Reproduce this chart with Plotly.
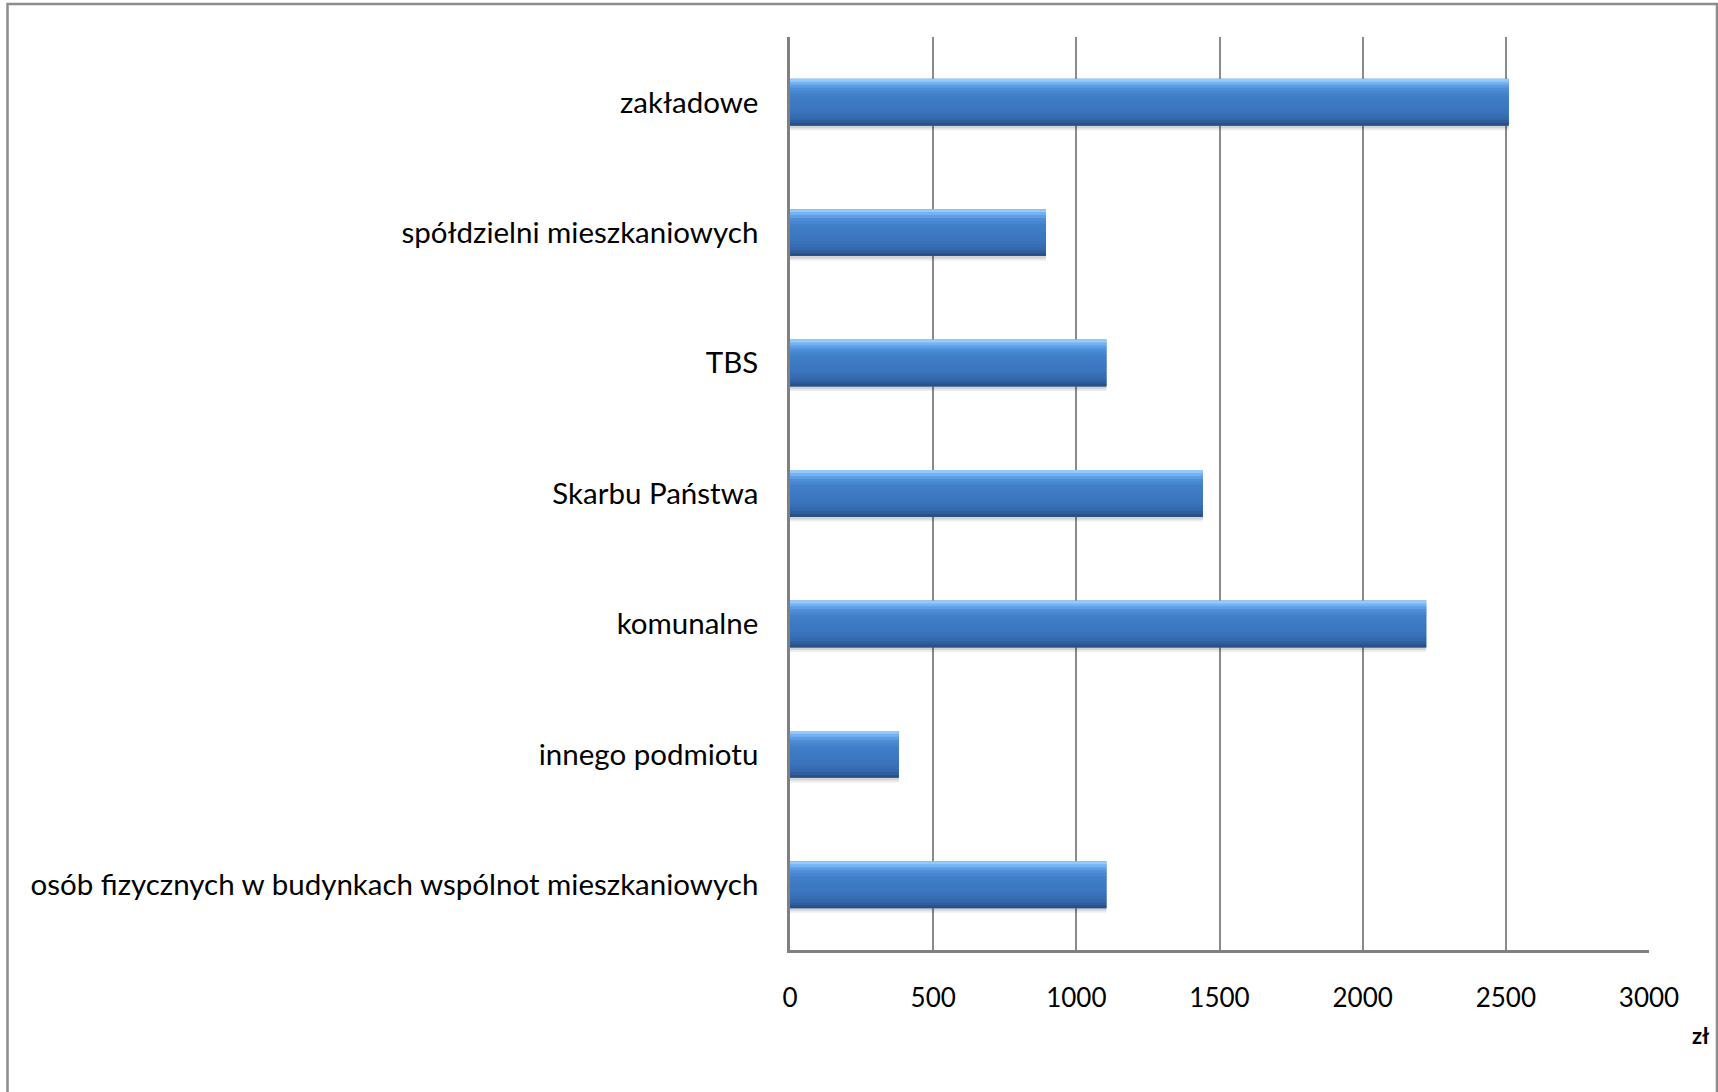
import plotly.graph_objects as go

# ---- data ----
categories = [
    "osób fizycznych w budynkach wspólnot mieszkaniowych",
    "innego podmiotu",
    "komunalne",
    "Skarbu Państwa",
    "TBS",
    "spółdzielni mieszkaniowych",
    "zakładowe",
]
values = [1105, 380, 2222, 1442, 1105, 894, 2510]
x_ticks = [0, 500, 1000, 1500, 2000, 2500, 3000]
unit_label = "zł"

# ---- style ----
BAR_H = 0.36
FONT = "Lato, 'Open Sans', sans-serif"
GRID = "#8a8a8a"
# gradient colour stops (fraction from top of bar, rgb)
stops = [
    (0.00, (170, 215, 255)),
    (0.08, (120, 182, 246)),
    (0.20, (80, 144, 218)),
    (0.35, (64, 127, 200)),
    (0.70, (58, 116, 188)),
    (0.88, (50, 100, 168)),
    (1.00, (38, 74, 122)),
]
N_STRIPS = 16


def colour_at(f):
    for (f0, c0), (f1, c1) in zip(stops[:-1], stops[1:]):
        if f0 <= f <= f1:
            t = (f - f0) / (f1 - f0) if f1 > f0 else 0
            c = [round(a + (b - a) * t) for a, b in zip(c0, c1)]
            return f"rgb({c[0]},{c[1]},{c[2]})"
    c = stops[-1][1]
    return f"rgb({c[0]},{c[1]},{c[2]})"


fig = go.Figure()

# soft shadow (two layers)
for dy, alpha in [(0.035, 0.07), (0.02, 0.10)]:
    fig.add_trace(go.Bar(
        y=categories, x=values, orientation="h",
        width=BAR_H, offset=-BAR_H / 2 - dy,
        marker=dict(color=f"rgba(0,0,0,{alpha})", line=dict(width=0)),
        hoverinfo="skip", showlegend=False,
    ))

# solid base under the gradient strips (fills anti-alias seams)
fig.add_trace(go.Bar(
    y=categories, x=values, orientation="h",
    width=BAR_H, offset=-BAR_H / 2,
    marker=dict(color="rgb(62,122,195)", line=dict(width=0)),
    hoverinfo="skip", showlegend=False,
))

for i in range(N_STRIPS):
    f0 = i / N_STRIPS
    f1 = (i + 1) / N_STRIPS
    # strips extend downward to overlap the next one, hiding seams
    ext = 0.5 / N_STRIPS if i < N_STRIPS - 1 else 0
    w = BAR_H * (f1 - f0 + ext)
    off = BAR_H / 2 - BAR_H * (f1 + ext)
    fig.add_trace(go.Bar(
        y=categories, x=values, orientation="h",
        width=w, offset=off,
        marker=dict(color=colour_at((f0 + f1) / 2), line=dict(width=0)),
        hoverinfo="skip", showlegend=False,
    ))

L, R, T, B = 790, 69, 37, 142
W, H = 1718, 1092
pw, ph = W - L - R, H - T - B


def px(x):
    return (x - L) / pw


def py(y):
    return (H - B - y) / ph


fig.update_layout(
    width=W, height=H,
    margin=dict(l=L, r=R, t=T, b=B, pad=0),
    paper_bgcolor="white", plot_bgcolor="white",
    barmode="overlay",
    font=dict(family=FONT, size=26, color="#000000"),
    xaxis=dict(
        range=[0, 3000], tickvals=x_ticks, ticktext=[str(v) for v in x_ticks],
        showgrid=True, gridcolor=GRID, gridwidth=1.6,
        showline=True, linecolor="#808080", linewidth=2.5,
        zeroline=False, ticks="", ticklabelstandoff=23,
        tickfont=dict(family=FONT, size=26),
        fixedrange=True,
    ),
    yaxis=dict(
        type="category", categoryorder="array", categoryarray=categories,
        range=[-0.5, len(categories) - 0.5],
        showgrid=False, showline=True, linecolor="#808080", linewidth=2.5,
        ticks="", ticklabelstandoff=23,
        tickfont=dict(family=FONT, size=29.5),
        fixedrange=True,
    ),
    shapes=[dict(
        type="rect", xref="paper", yref="paper",
        x0=px(7.5), x1=px(1717), y0=py(1100), y1=py(4),
        line=dict(color="#8c8c8c", width=2.5), fillcolor="rgba(0,0,0,0)",
        layer="below",
    )],
    annotations=[dict(
        text=f"<b>{unit_label}</b>", xref="paper", yref="paper",
        x=px(1700), y=py(1035), xanchor="center", yanchor="middle",
        showarrow=False,
        font=dict(family=FONT, size=22, color="#000000"),
    )],
)

fig.write_html(
    "out.html",
    config={"displayModeBar": False},
    post_script="document.body.style.margin='0';document.body.style.overflow='hidden';",
)
